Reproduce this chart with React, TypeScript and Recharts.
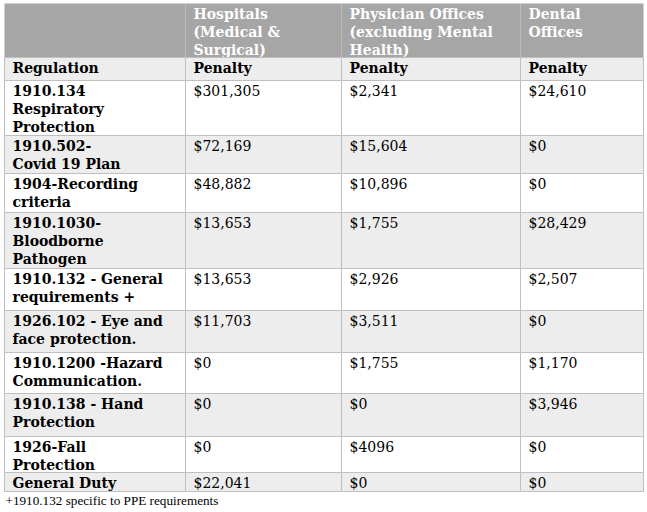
import React from 'react'
import { ComposedChart, XAxis, YAxis, ReferenceArea } from 'recharts'

// table text, one array per column
const columnTitles = ['', 'Hospitals\n(Medical &\nSurgical)', 'Physician Offices\n(excluding Mental\nHealth)', 'Dental\nOffices']
const subHeaders = ['Regulation', 'Penalty', 'Penalty', 'Penalty']
const regulations = [
  '1910.134\nRespiratory\nProtection',
  '1910.502-\nCovid 19 Plan',
  '1904-Recording\ncriteria',
  '1910.1030-\nBloodborne\nPathogen',
  '1910.132 - General\nrequirements +',
  '1926.102 - Eye and\nface protection.',
  '1910.1200 -Hazard\nCommunication.',
  '1910.138 - Hand\nProtection',
  '1926-Fall\nProtection',
  'General Duty',
]
const hospitalPenalties = ['$301,305', '$72,169', '$48,882', '$13,653', '$13,653', '$11,703', '$0', '$0', '$0', '$22,041']
const physicianPenalties = ['$2,341', '$15,604', '$10,896', '$1,755', '$2,926', '$3,511', '$1,755', '$0', '$4096', '$0']
const dentalPenalties = ['$24,610', '$0', '$0', '$28,429', '$2,507', '$0', '$1,170', '$3,946', '$0', '$0']
const footnote = '+1910.132 specific to PPE requirements'

// layout
const COL_WIDTHS = [181, 156, 179, 123]
const ROW_HEIGHTS = [54, 23, 55, 38, 39, 56, 42, 42, 41, 43, 36, 19]
const FOOT_HEIGHT = 18
const FONT = "Georgia, 'DejaVu Serif', serif"
const HEADER_GRAY = '#a6a6a6'
const ROW_GRAY = '#ededed'
const BORDER = '#bfbfbf'

type Row = { kind: 'title' | 'sub' | 'body'; cells: string[]; fill: string }

const rows: Row[] = [
  { kind: 'title', cells: columnTitles, fill: HEADER_GRAY },
  { kind: 'sub', cells: subHeaders, fill: ROW_GRAY },
  ...regulations.map((reg, i) => ({
    kind: 'body' as const,
    cells: [reg, hospitalPenalties[i], physicianPenalties[i], dentalPenalties[i]],
    fill: i % 2 === 0 ? '#ffffff' : ROW_GRAY,
  })),
]

const colStarts = COL_WIDTHS.map((_, i) => COL_WIDTHS.slice(0, i).reduce((a, b) => a + b, 0))
const rowStarts = ROW_HEIGHTS.map((_, i) => ROW_HEIGHTS.slice(0, i).reduce((a, b) => a + b, 0))
const tableW = COL_WIDTHS.reduce((a, b) => a + b, 0)
const tableH = ROW_HEIGHTS.reduce((a, b) => a + b, 0)
const totalH = tableH + FOOT_HEIGHT

const cellText = (text: string, bold: boolean, color: string, size = 14, padX = 8) => (props: any) => {
  const vb = props.viewBox ?? props
  const lines = text.split('\n')
  return (
    <text
      x={vb.x + padX}
      y={vb.y + 15}
      fontFamily={FONT}
      fontSize={size}
      fontWeight={bold ? 'bold' : 'normal'}
      fill={color}
    >
      {lines.map((line, i) => (
        <tspan key={i} x={vb.x + padX} dy={i === 0 ? 0 : 18}>
          {line}
        </tspan>
      ))}
    </text>
  )
}

const footText = (props: any) => {
  const vb = props.viewBox ?? props
  return (
    <text x={vb.x + 1} y={vb.y + 13} fontFamily="'Liberation Serif', serif" fontSize={13.2} fill="#000">
      {footnote}
    </text>
  )
}

export default function App() {
  return (
    <div style={{ position: 'absolute', left: 0, top: 0, width: 647, height: 512, background: '#fff' }}>
      <ComposedChart
        width={647}
        height={512}
        data={rows.map((r, i) => ({ x: 0, y: rowStarts[i] }))}
        margin={{ top: 3.5, left: 4.5, right: 647 - 4.5 - tableW, bottom: 512 - 3.5 - totalH }}
      >
        <XAxis type="number" dataKey="x" domain={[0, tableW]} hide allowDataOverflow />
        <YAxis type="number" dataKey="y" domain={[0, totalH]} reversed hide allowDataOverflow />
        {rows.map((row, r) =>
          row.cells.map((cell, c) => (
            <ReferenceArea
              key={`${r}-${c}`}
              x1={colStarts[c]}
              x2={colStarts[c] + COL_WIDTHS[c]}
              y1={rowStarts[r]}
              y2={rowStarts[r] + ROW_HEIGHTS[r]}
              fill={row.fill}
              fillOpacity={1}
              stroke={row.kind === 'title' ? 'none' : BORDER}
              strokeWidth={1}
              ifOverflow="visible"
              label={cellText(cell, row.kind !== 'body' || c === 0, row.kind === 'title' ? '#ffffff' : '#000000')}
            />
          )),
        )}
        <ReferenceArea
          x1={0}
          x2={tableW}
          y1={tableH}
          y2={totalH}
          fill="#ffffff"
          fillOpacity={0}
          stroke="none"
          ifOverflow="visible"
          label={footText}
        />
      </ComposedChart>
    </div>
  )
}
